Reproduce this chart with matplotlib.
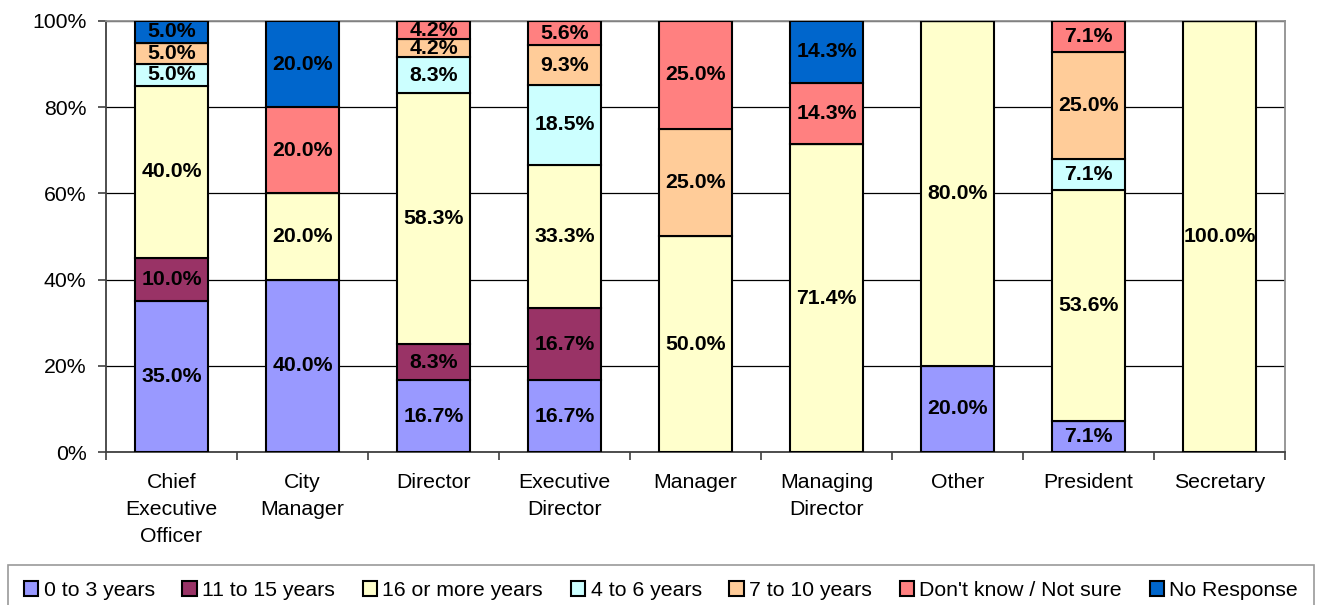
import numpy as np
import matplotlib.pyplot as plt
from matplotlib.ticker import FixedLocator, PercentFormatter

plt.rcParams['font.family'] = ['Liberation Sans', 'DejaVu Sans']

categories = ["Chief\nExecutive\nOfficer", "City\nManager", "Director", "Executive\nDirector",
              "Manager", "Managing\nDirector", "Other", "President", "Secretary"]
series = ["0 to 3 years", "11 to 15 years", "16 or more years", "4 to 6 years",
          "7 to 10 years", "Don't know / Not sure", "No Response"]
colors = ["#9999FF", "#993366", "#FFFFCC", "#CCFFFF", "#FFCC99", "#FF8080", "#0066CC"]

yrs_0_3 = [35.0, 40.0, 16.7, 16.7, 0, 0, 20.0, 7.1, 0]
yrs_11_15 = [10.0, 0, 8.3, 16.7, 0, 0, 0, 0, 0]
yrs_16_plus = [40.0, 20.0, 58.3, 33.3, 50.0, 71.4, 80.0, 53.6, 100.0]
yrs_4_6 = [5.0, 0, 8.3, 18.5, 0, 0, 0, 7.1, 0]
yrs_7_10 = [5.0, 0, 4.2, 9.3, 25.0, 0, 0, 25.0, 0]
dont_know = [0, 20.0, 4.2, 5.6, 25.0, 14.3, 0, 7.1, 0]
no_response = [5.0, 20.0, 0, 0, 0, 14.3, 0, 0, 0]

data = np.array([yrs_0_3, yrs_11_15, yrs_16_plus, yrs_4_6, yrs_7_10, dont_know, no_response])
# normalise each column to 100% (stacked 100% chart)
pct = data / data.sum(axis=0) * 100

fs = 15.3
fig = plt.figure(figsize=(13.22, 6.05), dpi=100)
ax = fig.add_axes([106 / 1322, 1 - 452 / 605, (1285 - 106) / 1322, (452 - 21) / 605])

x = np.arange(len(categories))
bottom = np.zeros(len(categories))
handles = []
for i, name in enumerate(series):
    bars = ax.bar(x, pct[i], 0.56, bottom=bottom, color=colors[i], edgecolor="black",
                  linewidth=1.5, label=name, zorder=3)
    handles.append(bars)
    for j in range(len(categories)):
        v = data[i, j]
        if v > 0:
            ax.text(x[j], bottom[j] + pct[i, j] / 2, f"{v:.1f}%", ha="center", va="center",
                    fontsize=fs, fontweight="bold", zorder=4)
    bottom += pct[i]

ax.set_xlim(-0.5, len(categories) - 0.5)
ax.set_ylim(0, 100)
ax.yaxis.set_major_locator(FixedLocator([0, 20, 40, 60, 80, 100]))
ax.yaxis.set_major_formatter(PercentFormatter(decimals=0))
ax.grid(axis="y", color="black", linewidth=0.9, zorder=0)

ax.set_xticks(x)
ax.set_xticklabels(categories, fontsize=fs, linespacing=1.55)
ax.set_xticks(np.arange(-0.5, len(categories)), minor=True)
ax.tick_params(axis="x", which="major", length=0, pad=15)
ax.tick_params(axis="x", which="minor", length=6, width=1.2, color="#404040")
ax.tick_params(axis="y", length=6, width=1.2, color="#404040", labelsize=fs, pad=8)

for side in ["left", "bottom"]:
    ax.spines[side].set_color("#404040")
    ax.spines[side].set_linewidth(1.3)
for side in ["top", "right"]:
    ax.spines[side].set_color("#909090")
    ax.spines[side].set_linewidth(1.3)

leg = fig.legend(handles=handles, labels=series, loc="upper center", ncol=7,
                 bbox_to_anchor=(0.5, 1 - 565 / 605), fontsize=fs, frameon=True,
                 fancybox=False, edgecolor="#808080", handlelength=0.68, handleheight=0.68,
                 handletextpad=0.25, columnspacing=1.3, borderpad=0.75, borderaxespad=0)
leg.get_frame().set_linewidth(1.2)

plt.savefig("out.png", dpi=100)
